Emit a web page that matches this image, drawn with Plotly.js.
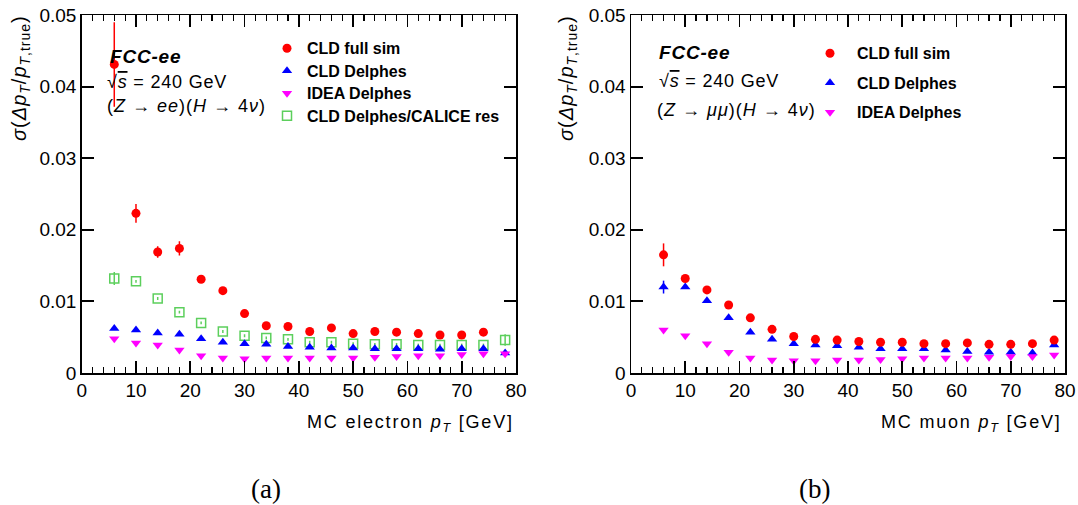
<!DOCTYPE html>
<html>
<head>
<meta charset="utf-8">
<script src="https://cdn.plot.ly/plotly-3.0.1.min.js"></script>
<style>html,body{margin:0;padding:0;background:#fff;}#chart{width:1078px;height:505px;}</style>
</head>
<body>
<div id="chart"></div>
<script>
// ---------- data ----------
const ptBins = [6,10,14,18,22,26,30,34,38,42,46,50,54,58,62,66,70,74,78];
const ptBinsFull = [6,10,14,18,22,26,30,34,38,42,46,50,54,58,62,66,70,74];

// (a) electrons
const eCLDFull    = [0.0431,0.0223,0.0169,0.0174,0.0131,0.0115,0.0083,0.0066,0.0065,0.0058,0.0063,0.0055,0.0058,0.0057,0.0055,0.0053,0.0053,0.0057];
const eCLDFullErr = [0.0059,0.0013,0.0008,0.0010,0.0003,0.0003,0.0002,0.0002,0.0002,0.0002,0.0002,0.0002,0.0002,0.0002,0.0002,0.0002,0.0002,0.0002];
const eCLDDelphes = [0.0062,0.0060,0.0056,0.0054,0.0048,0.0043,0.0041,0.0040,0.0037,0.0036,0.0035,0.0035,0.0034,0.0034,0.0034,0.0033,0.0034,0.0034,0.0028];
const eIDEADelphes= [0.0048,0.0042,0.0039,0.0032,0.0024,0.0021,0.0020,0.0021,0.0021,0.0021,0.0021,0.0021,0.0022,0.0023,0.0024,0.0024,0.0026,0.0027,0.0027];
const eCALICE     = [0.0132,0.0128,0.0104,0.0085,0.0070,0.0058,0.0052,0.0049,0.0047,0.0043,0.0043,0.0041,0.0040,0.0040,0.0039,0.0039,0.0039,0.0039,0.0046];
const eCALICEErr  = [0.0009,0.0002,0.0002,0.0002,0.0002,0.0002,0.0002,0.0002,0.0002,0.0002,0.0002,0.0002,0.0002,0.0002,0.0002,0.0002,0.0002,0.0002,0.0008];

// (b) muons
const mCLDFull    = [0.0165,0.0132,0.0116,0.0095,0.0077,0.0061,0.0051,0.0047,0.0046,0.0044,0.0043,0.0043,0.0041,0.0041,0.0042,0.0040,0.0040,0.0041,0.0046];
const mCLDFullErr = [0.0016,0.0003,0.0002,0.0002,0.0002,0.0001,0.0001,0.0001,0.0001,0.0001,0.0001,0.0001,0.0001,0.0001,0.0001,0.0001,0.0001,0.0001,0.0002];
const mCLDDelphes = [0.0120,0.0120,0.0101,0.0077,0.0057,0.0047,0.0041,0.0039,0.0038,0.0036,0.0034,0.0034,0.0034,0.0032,0.0030,0.0029,0.0029,0.0028,0.0039];
const mCLDDelphesErr = [0.0009,0.0002,0.0001,0.0001,0.0001,0.0001,0.0001,0.0001,0.0001,0.0001,0.0001,0.0001,0.0001,0.0001,0.0001,0.0001,0.0001,0.0001,0.0001];
const mIDEADelphes= [0.0060,0.0052,0.0041,0.0029,0.0021,0.0018,0.0017,0.0017,0.0018,0.0018,0.0019,0.0020,0.0021,0.0021,0.0021,0.0022,0.0023,0.0023,0.0025];

const seriesNames = ["CLD full sim","CLD Delphes","IDEA Delphes","CLD Delphes/CALICE res"];

// ---------- styling ----------
const FONT = "Liberation Sans, Arial, Helvetica, sans-serif";
const RED = "#ff0000", BLUE = "#0000ff", MAG = "#ff00ff", GREEN = "#5ccf5c";
const big = t => "<span style=\"font-size:16px\">" + t + "</span>";

function errObj(arr, color){
  return {type:"data", array:arr, visible:true, color:color, thickness:1.5, width:0};
}

const traces = [
  {x:ptBins, y:eCALICE, xaxis:"x", yaxis:"y", mode:"markers", name:big(seriesNames[3]), legend:"legend",
   marker:{symbol:"square-open", size:9, color:GREEN, line:{width:1.5, color:GREEN}}, error_y:errObj(eCALICEErr, GREEN), legendrank:4},
  {x:ptBins, y:eCLDDelphes, xaxis:"x", yaxis:"y", mode:"markers", name:big(seriesNames[1]), legend:"legend",
   marker:{symbol:"triangle-up", size:9, color:BLUE}, legendrank:2},
  {x:ptBins, y:eIDEADelphes, xaxis:"x", yaxis:"y", mode:"markers", name:big(seriesNames[2]), legend:"legend",
   marker:{symbol:"triangle-down", size:9, color:MAG}, legendrank:3},
  {x:ptBinsFull, y:eCLDFull, xaxis:"x", yaxis:"y", mode:"markers", name:big(seriesNames[0]), legend:"legend",
   marker:{symbol:"circle", size:9, color:RED}, error_y:errObj(eCLDFullErr, RED), legendrank:1},

  {x:ptBins, y:mCLDDelphes, xaxis:"x2", yaxis:"y2", mode:"markers", name:big(seriesNames[1]), legend:"legend2", legendgroup:"b2",
   marker:{symbol:"triangle-up", size:9, color:BLUE}, error_y:errObj(mCLDDelphesErr, BLUE), legendrank:2},
  {x:ptBins, y:mIDEADelphes, xaxis:"x2", yaxis:"y2", mode:"markers", name:big(seriesNames[2]), legend:"legend2", legendgroup:"b3",
   marker:{symbol:"triangle-down", size:9, color:MAG}, legendrank:3},
  {x:ptBins, y:mCLDFull, xaxis:"x2", yaxis:"y2", mode:"markers", name:big(seriesNames[0]), legend:"legend2", legendgroup:"b1",
   marker:{symbol:"circle", size:9, color:RED}, error_y:errObj(mCLDFullErr, RED), legendrank:1}
];

function xAxis(domain, anchor){
  return {domain:domain, anchor:anchor, range:[0,80], tickmode:"linear", tick0:0, dtick:10,
    ticks:"inside", ticklen:12, tickwidth:1.6, tickcolor:"#000",
    showline:true, linecolor:"#000", linewidth:1.5, mirror:"ticks", showgrid:false, zeroline:false,
    tickfont:{family:FONT, size:19, color:"#000"},
    minor:{tick0:0, dtick:2, ticks:"inside", ticklen:6, tickcolor:"#000", tickwidth:1.2, showgrid:false}};
}
function yAxis(domain, anchor){
  return {domain:domain, anchor:anchor, range:[0,0.05], tickmode:"linear", tick0:0, dtick:0.01,
    ticks:"inside", ticklen:12, tickwidth:2, tickcolor:"#000",
    showline:true, linecolor:"#000", linewidth:1.5, mirror:"ticks", showgrid:false, zeroline:false,
    tickfont:{family:FONT, size:19, color:"#000"}};
}
// overlay x axes: long inside ticks at labelled positions (drawn as minor ticks)
function xMajor(over, anchor){
  return {overlaying:over, anchor:anchor, range:[0,80], tickmode:"linear", tick0:0, dtick:10, ticks:"",
    showticklabels:false, showline:false, mirror:"allticks", showgrid:false, zeroline:false,
    minor:{tick0:0, dtick:10, ticks:"inside", ticklen:12, tickcolor:"#000", tickwidth:1.3, showgrid:false}};
}
// overlay y axes: short inside ticks every 0.002
function yMinor(over, anchor){
  return {overlaying:over, anchor:anchor, range:[0,0.05], tickmode:"linear", tick0:0, dtick:0.002,
    ticks:"inside", ticklen:6, tickwidth:2, tickcolor:"#000",
    showticklabels:false, showline:false, mirror:"ticks", showgrid:false, zeroline:false};
}

const W = 1078, H = 505;
const px = v => v / W, py = v => (H - v) / H;
const sp = (t, ls) => "<span style=\"letter-spacing:" + ls + "px\">" + t + "</span>";

const yTitle = sp("<i>σ</i>(<i>Δp</i><sub><i>T</i></sub>/<i>p</i><sub><i>T</i>,true</sub>)", 1);
const sqrtS = sp("√<span style=\"text-decoration:overline\"><i>s</i></span> = 240 GeV", 0.8);

function ann(text, x, y, opts){
  return Object.assign({text:text, x:x, y:y, xref:"paper", yref:"paper", showarrow:false,
    xanchor:"left", yanchor:"middle", font:{family:FONT, size:18, color:"#000"}}, opts||{});
}

const annotations = [
  ann(yTitle, px(20), py(78), {textangle:-90, xanchor:"center", font:{family:FONT, size:20, color:"#000"}}),
  ann(yTitle, px(567), py(78), {textangle:-90, xanchor:"center", font:{family:FONT, size:20, color:"#000"}}),
  ann(sp("MC electron <i>p</i><sub><i>T</i></sub> [GeV]", 1.8), px(516), py(423), {xanchor:"right", font:{family:FONT, size:18, color:"#000"}}),
  ann(sp("MC muon <i>p</i><sub><i>T</i></sub> [GeV]", 1.8), px(1064), py(423), {xanchor:"right", font:{family:FONT, size:18, color:"#000"}}),
  ann(sp("<b><i>FCC-ee</i></b>", 0.8), px(108), py(57), {font:{family:FONT, size:19, color:"#000"}}),
  ann(sqrtS, px(105), py(82)),
  ann(sp("(<i>Z</i> → <i>ee</i>)(<i>H</i> → 4<i>ν</i>)", 1.0), px(105), py(106)),
  ann(sp("<b><i>FCC-ee</i></b>", 0.8), px(657), py(53), {font:{family:FONT, size:19, color:"#000"}}),
  ann(sqrtS, px(657), py(81)),
  ann(sp("(<i>Z</i> → <i>μμ</i>)(<i>H</i> → 4<i>ν</i>)", 1.0), px(655), py(110)),
  ann("(a)", px(266), py(489), {xanchor:"center", font:{family:"Liberation Serif, DejaVu Serif, serif", size:27, color:"#000"}}),
  ann("(b)", px(814), py(489), {xanchor:"center", font:{family:"Liberation Serif, DejaVu Serif, serif", size:27, color:"#000"}})
];

const layout = {
  width:W, height:H, margin:{l:0, r:0, t:0, b:0}, paper_bgcolor:"#fff", plot_bgcolor:"rgba(0,0,0,0)",
  showlegend:true,
  xaxis:xAxis([px(81.7), px(516)], "y"),
  yaxis:yAxis([py(373), py(15)], "x"),
  xaxis2:xAxis([px(631), px(1065)], "y2"),
  yaxis2:yAxis([py(373), py(15)], "x2"),
  xaxis3:xMajor("x", "y"),
  xaxis4:xMajor("x2", "y2"),
  yaxis3:yMinor("y", "x"),
  yaxis4:yMinor("y2", "x2"),
  legend:{x:px(267), y:py(32), xanchor:"left", yanchor:"top", bgcolor:"rgba(0,0,0,0)", borderwidth:0,
    font:{family:FONT, size:15, color:"#000", weight:"bold"}, traceorder:"normal", itemwidth:30},
  legend2:{x:px(803), y:py(37), xanchor:"left", yanchor:"top", bgcolor:"rgba(0,0,0,0)", borderwidth:0,
    font:{family:FONT, size:15, color:"#000", weight:"bold"}, traceorder:"grouped", tracegroupgap:7, itemwidth:44},
  annotations:annotations
};

Plotly.newPlot("chart", traces, layout, {displayModeBar:false, staticPlot:true});
</script>
</body>
</html>
